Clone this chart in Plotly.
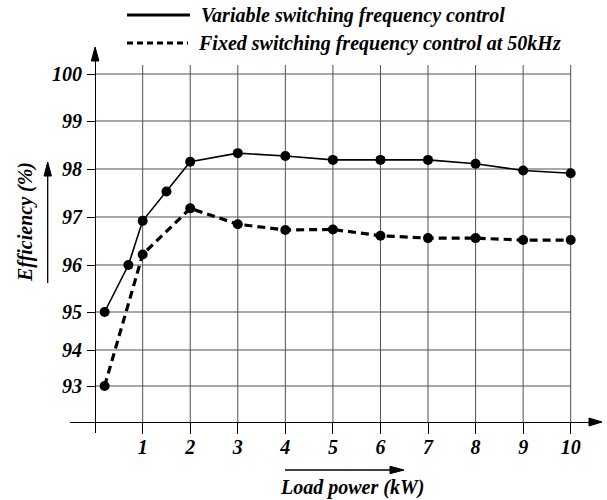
import numpy as np
import plotly.graph_objects as go

# ---------------- data ----------------
load_var = [0.2, 0.7, 1, 1.5, 2, 3, 4, 5, 6, 7, 8, 9, 10]
eff_var = [95.0, 96.0, 96.92, 97.53, 98.15, 98.33, 98.27, 98.19, 98.19, 98.19, 98.11, 97.97, 97.91]
load_fix = [0.2, 1, 2, 3, 4, 5, 6, 7, 8, 9, 10]
eff_fix = [93.0, 96.22, 97.18, 96.85, 96.73, 96.74, 96.61, 96.56, 96.56, 96.52, 96.52]

x_ticks = [1, 2, 3, 4, 5, 6, 7, 8, 9, 10]
y_ticks = [93, 94, 95, 96, 97, 98, 99, 100]
y_tick_labels = ["93", "94", "95", "96", "97", "98", "99", "100"]
name_var = "Variable switching frequency control"
name_fix = "Fixed switching frequency control at 50kHz"

# the original figure uses a non-uniform efficiency scale (compressed below 95)
y_scale_pos = [36, 72, 110, 157, 205, 253, 301, 348]


def warp(v):
    return np.interp(v, y_ticks, y_scale_pos)


# ---------------- layout geometry ----------------
W, H = 607, 500
L, R, T, B = 70, 9, 48, 67
PW, PH = W - L - R, H - T - B
X_RANGE = [-0.528, 10.574]
Y_RANGE = [-11, 374]
GRID_TOP = 357


def px(x):
    return (x - L) / PW


def py(y):
    return (H - B - y) / PH


FONT = dict(family="Liberation Serif", size=20,
            color="black", weight="bold", style="italic")
GRID = dict(color="rgb(80,80,80)", width=1)

fig = go.Figure()
fig.add_trace(go.Scatter(
    x=load_var, y=warp(eff_var), name=name_var, mode="lines+markers",
    line=dict(color="black", width=1.6),
    marker=dict(color="black", size=10), showlegend=False))
fig.add_trace(go.Scatter(
    x=load_fix, y=warp(eff_fix), name=name_fix, mode="lines+markers",
    line=dict(color="black", width=3.2, dash="8px,5px"),
    marker=dict(color="black", size=10), showlegend=False))

shapes = []
# grid
for xv in x_ticks:
    shapes.append(dict(type="line", xref="x", yref="y", x0=xv, x1=xv,
                       y0=0, y1=GRID_TOP, line=GRID, layer="below"))
for yv in y_ticks:
    shapes.append(dict(type="line", xref="x", yref="y", x0=0, x1=x_ticks[-1],
                       y0=float(warp(yv)), y1=float(warp(yv)), line=GRID, layer="below"))


def tri(tip, b1, b2):
    return dict(type="path", xref="paper", yref="paper",
                path=f"M{px(tip[0])},{py(tip[1])} L{px(b1[0])},{py(b1[1])} "
                     f"L{px(b2[0])},{py(b2[1])} Z",
                fillcolor="black", line=dict(color="black", width=1))


def seg(p0, p1, width=1.3, dash=None):
    ln = dict(color="black", width=width)
    if dash:
        ln["dash"] = dash
    return dict(type="line", xref="paper", yref="paper",
                x0=px(p0[0]), y0=py(p0[1]), x1=px(p1[0]), y1=py(p1[1]), line=ln)


# axis arrowheads
shapes.append(tri((95.1, 47), (91.3, 61), (98.9, 61)))
shapes.append(tri((602, 422), (589, 418), (589, 426)))
# axis-title arrows
shapes.append(seg((47.7, 283), (47.7, 172)))
shapes.append(tri((47.7, 162), (44.0, 176), (51.4, 176)))
shapes.append(seg((285, 470), (393, 470)))
shapes.append(tri((404, 470), (390, 466.3), (390, 473.7)))
# legend samples
shapes.append(seg((127, 15), (190, 15), width=3))
shapes.append(seg((127, 43), (188, 43), width=3, dash="6px,4px"))

annotations = [
    dict(text=name_var, xref="paper", yref="paper", x=px(199), y=py(15),
         xanchor="left", yanchor="middle", showarrow=False, font=FONT),
    dict(text=name_fix, xref="paper", yref="paper", x=px(196), y=py(43),
         xanchor="left", yanchor="middle", showarrow=False, font=FONT),
    dict(text="Efficiency (%)", xref="paper", yref="paper", x=px(25), y=py(222),
         textangle=-90, xanchor="center", yanchor="middle", showarrow=False, font=FONT),
    dict(text="Load power (kW)", xref="paper", yref="paper", x=px(352), y=py(487),
         xanchor="center", yanchor="middle", showarrow=False, font=FONT),
]

fig.update_layout(
    width=W, height=H, margin=dict(l=L, r=R, t=T, b=B),
    paper_bgcolor="white", plot_bgcolor="white",
    shapes=shapes, annotations=annotations, showlegend=False,
    xaxis=dict(range=X_RANGE, anchor="free", position=11 / PH,
               showgrid=False, zeroline=False, showline=True, linecolor="black", linewidth=1.3,
               tickvals=x_ticks, ticktext=[str(v) for v in x_ticks],
               ticks="outside", ticklen=11, tickwidth=1.2, tickcolor="black",
               ticklabelstandoff=-4, tickfont=FONT),
    yaxis=dict(range=Y_RANGE, anchor="free", position=(95.1 - L) / PW,
               showgrid=False, zeroline=False, showline=True, linecolor="black", linewidth=1.3,
               tickvals=[float(v) for v in warp(y_ticks)], ticktext=y_tick_labels,
               ticks="outside", ticklen=8, tickwidth=1.2, tickcolor="black",
               ticklabelstandoff=1, tickfont=FONT),
)

fig.write_html("out.html", config={"displayModeBar": False},
               post_script="document.body.style.margin='0';document.body.style.overflow='hidden';")
